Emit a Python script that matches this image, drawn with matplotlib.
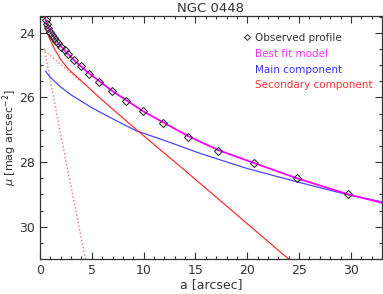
import matplotlib
matplotlib.use("Agg")
import matplotlib.pyplot as plt
from matplotlib.lines import Line2D
from matplotlib.ticker import MultipleLocator

# Observed profile (a in arcsec, mu in mag/arcsec^2)
obs_a = [0.55, 0.70, 0.80, 0.97, 1.19, 1.38, 1.54, 1.77, 2.06, 2.41, 2.73, 3.28,
         3.93, 4.76, 5.72, 6.92, 8.27, 9.91, 11.90, 14.31, 17.21, 20.66, 24.78, 29.76]
obs_mu = [23.59, 23.73, 23.85, 23.97, 24.07, 24.15, 24.25, 24.33, 24.43, 24.54, 24.66, 24.85,
          25.03, 25.26, 25.52, 25.80, 26.11, 26.43, 26.79, 27.22, 27.65, 28.04, 28.48, 28.99]

# Best fit model
fit_a = [0.42, 0.55, 0.80, 1.19, 1.77, 2.41, 3.28, 4.76, 6.92, 9.91, 14.31, 17.21, 20.66, 24.78, 29.76, 33.0]
fit_mu = [23.50, 23.60, 23.83, 24.07, 24.33, 24.55, 24.85, 25.26, 25.79, 26.42, 27.20, 27.63, 28.03, 28.50, 29.00, 29.26]

# Main component
main_a = [0.55, 1.0, 1.93, 3.0, 5.0, 7.0, 9.27, 12.0, 15.44, 20.0, 24.78, 29.8, 33.0]
main_mu = [25.19, 25.38, 25.66, 25.92, 26.32, 26.66, 27.03, 27.33, 27.73, 28.20, 28.61, 29.02, 29.23]

# Secondary component (total, solid)
sec_a = [0.45, 0.70, 1.0, 1.4, 1.93, 2.5, 3.0, 3.86, 5.79, 9.27, 13.51, 18.0, 24.2]
sec_mu = [23.78, 24.00, 24.23, 24.50, 24.79, 25.03, 25.20, 25.45, 26.02, 26.99, 28.13, 29.36, 31.06]

# Secondary sub-components (dotted)
sub1_a = [0.42, 0.77, 1.9, 4.42]
sub1_mu = [24.48, 25.10, 26.98, 31.06]
sub2_a = [0.45, 2.0, 4.0]
sub2_mu = [24.55, 24.98, 25.52]

fig = plt.figure(figsize=(3.83, 2.94), dpi=100)
ax = fig.add_axes([0.1044, 0.119, 0.893, 0.8266])

txt = '#333333'
ax.plot(sub1_a, sub1_mu, ':', color='#ff7070', lw=1.0)
ax.plot(sub2_a, sub2_mu, ':', color='#ff7070', lw=1.0)
ax.plot(main_a, main_mu, '-', color='#4848ff', lw=0.9)
ax.plot(sec_a, sec_mu, '-', color='#ff3030', lw=0.9)
ax.plot(fit_a, fit_mu, '-', color='#ff00ff', lw=1.3)
ax.plot(obs_a, obs_mu, 'D', mfc='none', mec='#333333', mew=0.8, ms=4.3, ls='none')

ax.set_xlim(0, 33)
ax.set_ylim(31, 23.48)
ax.xaxis.set_major_locator(MultipleLocator(5))
ax.xaxis.set_minor_locator(MultipleLocator(1))
ax.yaxis.set_major_locator(MultipleLocator(2))
ax.yaxis.set_minor_locator(MultipleLocator(0.5))
ax.tick_params(which='both', direction='in', top=True, right=True, colors=txt,
               labelsize=9, width=0.8)
ax.tick_params(which='major', length=5)
ax.tick_params(which='minor', length=2.5)
for s in ax.spines.values():
    s.set_color(txt)
    s.set_linewidth(0.9)

ax.set_title('NGC 0448', fontsize=9.5, color=txt, pad=3)
ax.set_xlabel('a [arcsec]', fontsize=9, color=txt, labelpad=1)
ax.set_ylabel(r'$\mu$ [mag arcsec$^{-2}$]', fontsize=8, color=txt)
ax.yaxis.set_label_coords(-0.06, 0.5)

handles = [Line2D([], [], marker='D', mfc='none', mec='#333333', mew=0.7, ms=3, ls='none'),
           Line2D([], [], ls='none'),
           Line2D([], [], ls='none'),
           Line2D([], [], ls='none')]
labels = ['Observed profile', 'Best fit model', 'Main component', 'Secondary component']
ax.legend(handles, labels, loc='upper right', bbox_to_anchor=(1.0, 0.968), frameon=False,
          fontsize=7.5, handlelength=0.6, handletextpad=0.5, labelspacing=0.55,
          labelcolor=['#333333', '#ff33ff', '#3333ff', '#ff3333'])

fig.savefig('out.png', dpi=100)
